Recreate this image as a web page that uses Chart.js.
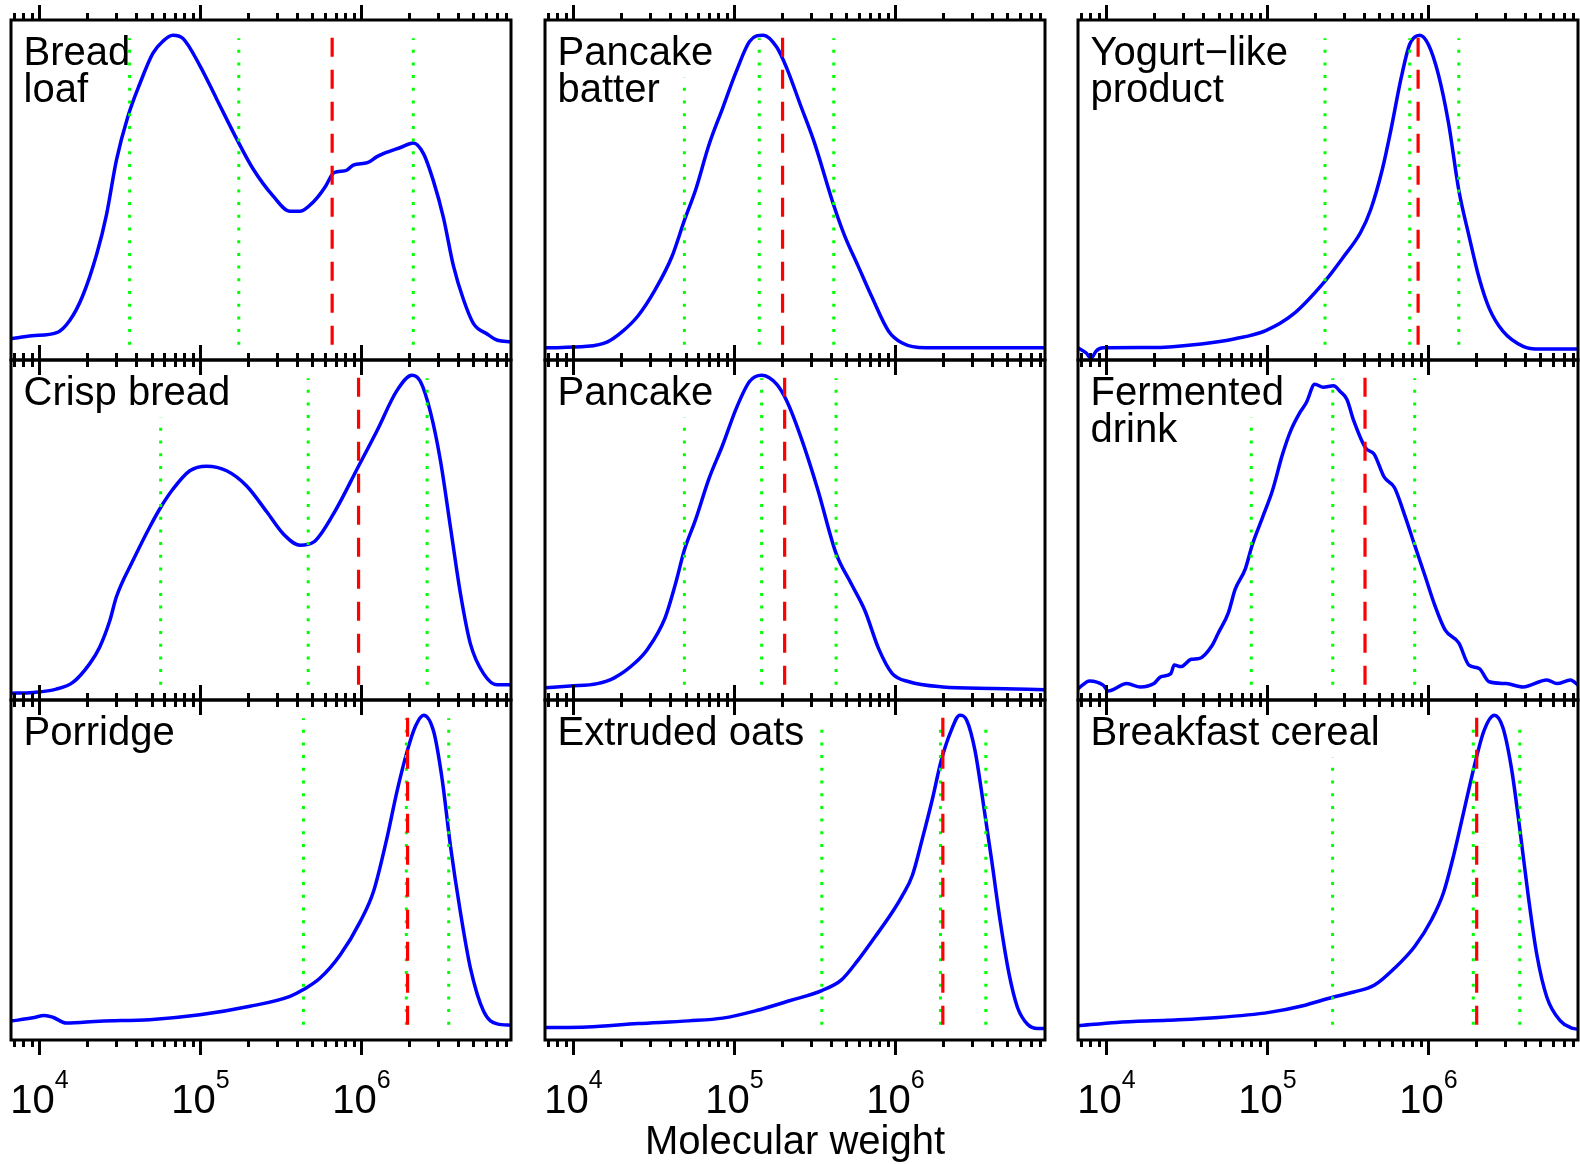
<!DOCTYPE html>
<html>
<head>
<meta charset="utf-8">
<script src="https://cdn.jsdelivr.net/npm/chart.js@4.4.1/dist/chart.umd.min.js"></script>
<style>
  html, body { margin: 0; padding: 0; background: #fff; overflow: hidden; }
  #wrap { position: relative; width: 1580px; height: 1164px; }
  #wrap canvas { position: absolute; }
</style>
</head>
<body>
<div id="wrap"></div>
<script>
// x axis: molecular weight, log scale
const mwMin = 6650;
const mwMax = 8.5e6;
const tickMantissas = [1, 2, 3, 4, 5, 6, 7, 8, 9];
const tickDecades = [1e3, 1e4, 1e5, 1e6];
const labelPowers = [4, 5, 6];
const xAxisTitle = 'Molecular weight';

// Bread loaf
const breadLoafMw = [6600, 9000, 12800, 15400, 18500, 22700, 26100, 30100, 35300, 42000, 50600, 58400, 67300, 77600, 99100, 126000, 171000, 212000, 283000, 360000, 416000, 501000, 595000, 667000, 706000, 816000, 890000, 1090000, 1250000, 1450000, 1750000, 2100000, 2430000, 2800000, 3230000, 3730000, 4300000, 4970000, 6070000, 7010000, 8450000];
const breadLoafSignal = [0.00, 0.01, 0.02, 0.06, 0.14, 0.28, 0.41, 0.59, 0.73, 0.84, 0.94, 0.98, 1.00, 0.99, 0.90, 0.79, 0.65, 0.56, 0.47, 0.42, 0.42, 0.45, 0.50, 0.545, 0.55, 0.556, 0.572, 0.58, 0.60, 0.615, 0.63, 0.645, 0.61, 0.52, 0.40, 0.24, 0.13, 0.05, 0.015, -0.005, -0.01];
const breadLoafDotted = [36300, 173000, 2100000];
const breadLoafDottedTop = [0.99, 0.99, 0.99];
const breadLoafDashed = 658000;

// Pancake batter
const batterMw = [6640, 12150, 16260, 19730, 25130, 32050, 40830, 48850, 57330, 69540, 84490, 102500, 124400, 151100, 183300, 211800, 257000, 311900, 413800, 483200, 586200, 711000, 907000, 1102000, 1546000, 4074000, 8500000];
const batterSignal = [-0.03, -0.025, -0.01, 0.02, 0.075, 0.16, 0.27, 0.39, 0.49, 0.64, 0.76, 0.88, 0.98, 1.0, 0.96, 0.89, 0.77, 0.65, 0.44, 0.34, 0.24, 0.14, 0.025, -0.014, -0.03, -0.03, -0.03];
const batterDotted = [48850, 142500, 413800];
const batterDottedTop = [0.86, 0.99, 0.99];
const batterDashed = 199000;

// Yogurt-like product
const yogurtMw = [6650, 7480, 8040, 8630, 9530, 18750, 38800, 63000, 97600, 143900, 227800, 297000, 378700, 437600, 518300, 585800, 677600, 765400, 883900, 998000, 1154000, 1334000, 1544000, 1785000, 2066000, 2387000, 2903000, 3876000, 4932000, 8500000];
const yogurtSignal = [-0.03, -0.047, -0.064, -0.04, -0.03, -0.029, -0.017, 0.0, 0.027, 0.08, 0.19, 0.27, 0.35, 0.425, 0.56, 0.69, 0.86, 0.97, 1.0, 0.97, 0.87, 0.71, 0.49, 0.34, 0.20, 0.10, 0.025, -0.025, -0.034, -0.034];
const yogurtDotted = [227800, 765400, 1544000];
const yogurtDottedTop = [0.99, 0.99, 0.99];
const yogurtDashed = 863000;

// Crisp bread
const crispMw = [6600, 9080, 12700, 16110, 20470, 23640, 27290, 30050, 38130, 48410, 56670, 67560, 85880, 109100, 145400, 193700, 258100, 327400, 415700, 503700, 670300, 959500, 1250000, 1665000, 2062000, 2322000, 2680000, 3095000, 3573000, 4125000, 4756000, 5754000, 6977000, 8450000];
const crispSignal = [-0.048, -0.045, -0.034, -0.012, 0.049, 0.104, 0.19, 0.27, 0.39, 0.50, 0.565, 0.625, 0.685, 0.70, 0.685, 0.635, 0.55, 0.477, 0.44, 0.45, 0.543, 0.70, 0.817, 0.95, 1.0, 0.98, 0.88, 0.72, 0.50, 0.28, 0.115, 0.016, -0.02, -0.02];
const crispDotted = [56600, 467000, 2560000];
const crispDottedTop = [0.86, 0.99, 0.99];
const crispDashed = 960000;

// Pancake
const pancakeMw = [6640, 9540, 14050, 17920, 23950, 29060, 37000, 42860, 48850, 57330, 69540, 84490, 102500, 124400, 147500, 183300, 211800, 257000, 327800, 427800, 531700, 646900, 785300, 953000, 1214000, 1971000, 4074000, 8500000];
const pancakeSignal = [-0.03, -0.024, -0.016, 0.003, 0.051, 0.10, 0.20, 0.31, 0.424, 0.524, 0.66, 0.77, 0.89, 0.98, 1.0, 0.97, 0.914, 0.80, 0.627, 0.413, 0.313, 0.224, 0.10, 0.018, -0.01, -0.027, -0.032, -0.036];
const pancakeDotted = [48850, 147500, 427800];
const pancakeDottedTop = [0.86, 0.99, 0.99];
const pancakeDashed = 205000;

// Fermented drink
const drinkMw = [6650, 7850, 9530, 10250, 13370, 16230, 19710, 21690, 25110, 26320, 29020, 33580, 37880, 44850, 49440, 57130, 63040, 72850, 80320, 92970, 107400, 124100, 140200, 158200, 174500, 196800, 222200, 257200, 283200, 311700, 343500, 407100, 459900, 531500, 614900, 711000, 821700, 951200, 1099000, 1272000, 1544000, 1785000, 2066000, 2387000, 3042000, 3876000, 5445000, 6295000, 7640000, 8500000];
const drinkSignal = [-0.033, -0.007, -0.021, -0.04, -0.016, -0.027, -0.016, 0.006, 0.017, 0.045, 0.04, 0.064, 0.067, 0.106, 0.15, 0.217, 0.295, 0.362, 0.44, 0.53, 0.62, 0.74, 0.82, 0.875, 0.91, 0.97, 0.96, 0.965, 0.946, 0.92, 0.85, 0.76, 0.74, 0.664, 0.63, 0.54, 0.44, 0.34, 0.24, 0.16, 0.118, 0.045, 0.034, -0.01, -0.016, -0.027, -0.004, -0.016, -0.004, -0.021];
const drinkDotted = [79300, 254600, 821700];
const drinkDottedTop = [0.86, 0.99, 0.99];
const drinkDashed = 403700;

// Porridge
const porridgeMw = [6600, 9080, 10740, 12100, 14660, 23640, 48410, 99100, 203000, 360300, 436300, 553900, 737800, 983000, 1190000, 1442000, 1665000, 1921000, 2163000, 2436000, 2812000, 3172000, 3573000, 4125000, 4756000, 5754000, 6977000, 8450000];
const porridgeSignal = [-0.008, 0.003, 0.011, 0.005, -0.014, -0.008, -0.003, 0.013, 0.041, 0.074, 0.096, 0.134, 0.21, 0.32, 0.42, 0.596, 0.75, 0.88, 0.963, 1.0, 0.946, 0.79, 0.57, 0.35, 0.167, 0.024, -0.017, -0.021];
const porridgeDotted = [436300, 1901000, 3486000];
const porridgeDottedTop = [0.99, 0.99, 0.99];
const porridgeDashed = 1936000;

// Extruded oats
const oatsMw = [6640, 12150, 25130, 52000, 84490, 137000, 222300, 349000, 460300, 586200, 748100, 953000, 1102000, 1274000, 1472000, 1705000, 1924000, 2224000, 2510000, 2767000, 3121000, 3524000, 3977000, 4494000, 5072000, 5728000, 6620000, 7650000, 8500000];
const oatsSignal = [-0.029, -0.027, -0.016, -0.007, 0.002, 0.027, 0.06, 0.093, 0.127, 0.193, 0.27, 0.35, 0.405, 0.472, 0.594, 0.728, 0.85, 0.95, 1.0, 0.984, 0.884, 0.706, 0.516, 0.316, 0.15, 0.038, -0.018, -0.032, -0.032];
const oatsDotted = [349000, 1905000, 3645000];
const oatsDottedTop = [0.98, 0.98, 0.98];
const oatsDashed = 1971000;

// Breakfast cereal
const cerealMw = [6650, 11560, 23930, 49440, 102300, 166100, 254000, 343500, 459900, 614900, 821700, 1048000, 1242000, 1436000, 1660000, 1920000, 2219000, 2568000, 2898000, 3274000, 3693000, 4171000, 4702000, 5445000, 6607000, 7640000, 8500000];
const cerealSignal = [-0.023, -0.012, -0.005, 0.004, 0.021, 0.043, 0.071, 0.088, 0.11, 0.166, 0.238, 0.327, 0.416, 0.539, 0.683, 0.828, 0.95, 1.0, 0.96, 0.828, 0.627, 0.405, 0.215, 0.071, -0.007, -0.029, -0.035];
const cerealDotted = [254000, 1900000, 3693000];
const cerealDottedTop = [0.86, 0.98, 0.98];
const cerealDashed = 1995000;

const panels = [
  { title: ['Bread', 'loaf'], mw: breadLoafMw, signal: breadLoafSignal, dotted: breadLoafDotted, dottedTop: breadLoafDottedTop, dashed: breadLoafDashed },
  { title: ['Pancake', 'batter'], mw: batterMw, signal: batterSignal, dotted: batterDotted, dottedTop: batterDottedTop, dashed: batterDashed },
  { title: ['Yogurt\u2212like', 'product'], mw: yogurtMw, signal: yogurtSignal, dotted: yogurtDotted, dottedTop: yogurtDottedTop, dashed: yogurtDashed },
  { title: ['Crisp bread'], mw: crispMw, signal: crispSignal, dotted: crispDotted, dottedTop: crispDottedTop, dashed: crispDashed },
  { title: ['Pancake'], mw: pancakeMw, signal: pancakeSignal, dotted: pancakeDotted, dottedTop: pancakeDottedTop, dashed: pancakeDashed },
  { title: ['Fermented', 'drink'], mw: drinkMw, signal: drinkSignal, dotted: drinkDotted, dottedTop: drinkDottedTop, dashed: drinkDashed },
  { title: ['Porridge'], mw: porridgeMw, signal: porridgeSignal, dotted: porridgeDotted, dottedTop: porridgeDottedTop, dashed: porridgeDashed },
  { title: ['Extruded oats'], mw: oatsMw, signal: oatsSignal, dotted: oatsDotted, dottedTop: oatsDottedTop, dashed: oatsDashed },
  { title: ['Breakfast cereal'], mw: cerealMw, signal: cerealSignal, dotted: cerealDotted, dottedTop: cerealDottedTop, dashed: cerealDashed }
];

// layout
const colLeft = [11, 545, 1078];
const rowTop = [20, 360, 700];
const panelW = 500;
const panelH = 340;
const yMin = -0.07;
const yMax = 1.05;
const markBottom = -0.02;
const dashedTop = 1.0;
const FONT = '"Liberation Sans", Arial, Helvetica, sans-serif';

const tickValues = [];
tickDecades.forEach(d => tickMantissas.forEach(m => {
  const v = d * m;
  if (v >= mwMin && v <= mwMax) tickValues.push(v);
}));
const isMajor = v => Math.abs(Math.log10(v) - Math.round(Math.log10(v))) < 1e-9;

function xAxis(position) {
  const top = position === 'top';
  return {
    type: 'logarithmic',
    position: position,
    min: mwMin,
    max: mwMax,
    afterBuildTicks: s => { s.ticks = tickValues.map(v => ({ value: v })); },
    ticks: { display: false },
    border: { display: false },
    grid: {
      display: true,
      drawOnChartArea: false,
      drawTicks: true,
      tickLength: 15,
      tickWidth: 3,
      tickColor: '#000',
      // minor ticks are shorter: dash keeps only the part next to the frame
      tickBorderDash: ctx => (ctx.tick && !isMajor(ctx.tick.value)) ? (top ? [7, 8] : [7, 100]) : [],
      tickBorderDashOffset: top ? 7 : 0
    }
  };
}

function decorPlugin(panel, idx) {
  return {
    id: 'decor' + idx,
    afterDatasetsDraw(chart) {
      const { ctx, chartArea: a } = chart;
      ctx.save();
      ctx.lineWidth = 3;
      ctx.strokeStyle = '#000';
      ctx.strokeRect(a.left, a.top, a.right - a.left, a.bottom - a.top);
      ctx.restore();
    },
    afterDraw(chart) {
      const { ctx, chartArea: a } = chart;
      ctx.save();
      ctx.fillStyle = '#000';
      ctx.textBaseline = 'alphabetic';
      ctx.textAlign = 'left';
      ctx.font = '40px ' + FONT;
      panel.title.forEach((line, i) => ctx.fillText(line, a.left + 12.5, a.top + 45 + i * 37));

      if (idx >= 6) {
        const xs = chart.scales.x;
        labelPowers.forEach(p => {
          const px = xs.getPixelForValue(Math.pow(10, p));
          ctx.font = '40px ' + FONT;
          const w1 = ctx.measureText('10').width;
          ctx.font = '25px ' + FONT;
          const w2 = ctx.measureText(String(p)).width;
          const x0 = px - (w1 + w2) / 2;
          ctx.font = '40px ' + FONT;
          ctx.fillText('10', x0, a.bottom + 73);
          ctx.font = '25px ' + FONT;
          ctx.fillText(String(p), x0 + w1, a.bottom + 48);
        });
      }
      if (idx === 7) {
        ctx.font = '40px ' + FONT;
        ctx.textAlign = 'center';
        ctx.fillText(xAxisTitle, (a.left + a.right) / 2, a.bottom + 114);
      }
      ctx.restore();
    }
  };
}

const wrap = document.getElementById('wrap');

panels.forEach((panel, idx) => {
  const r = Math.floor(idx / 3);
  const c = idx % 3;
  const padBottom = r === 2 ? 113 : 3;
  const w = panelW + 12;
  const h = 3 + 15 + panelH + 15 + padBottom;

  const cv = document.createElement('canvas');
  cv.width = w;
  cv.height = h;
  cv.style.left = (colLeft[c] - 6) + 'px';
  cv.style.top = (rowTop[r] - 18) + 'px';
  cv.style.width = w + 'px';
  cv.style.height = h + 'px';
  wrap.appendChild(cv);

  const datasets = [{
    data: panel.mw.map((m, i) => ({ x: m, y: panel.signal[i] })),
    borderColor: 'rgb(0,0,255)',
    borderWidth: 3.5,
    pointRadius: 0,
    fill: false,
    cubicInterpolationMode: 'monotone',
    order: 2
  }];
  panel.dotted.forEach((m, i) => {
    datasets.push({
      data: [{ x: m, y: markBottom }, { x: m, y: panel.dottedTop[i] }],
      borderColor: 'rgb(0,255,0)',
      borderWidth: 3,
      borderDash: [3, 9.7],
      pointRadius: 0,
      fill: false,
      tension: 0,
      order: 1
    });
  });
  datasets.push({
    data: [{ x: panel.dashed, y: markBottom }, { x: panel.dashed, y: dashedTop }],
    borderColor: 'rgb(255,0,0)',
    borderWidth: 3.2,
    borderDash: [19, 13],
    pointRadius: 0,
    fill: false,
    tension: 0,
    order: 0
  });

  new Chart(cv, {
    type: 'line',
    data: { datasets },
    options: {
      responsive: false,
      animation: false,
      events: [],
      layout: { padding: { left: 6, right: 6, top: 3, bottom: padBottom } },
      plugins: { legend: { display: false }, tooltip: { enabled: false } },
      scales: {
        x: xAxis('bottom'),
        x2: xAxis('top'),
        y: { type: 'linear', min: yMin, max: yMax, display: false }
      }
    },
    plugins: [decorPlugin(panel, idx)]
  });
});
</script>
</body>
</html>
